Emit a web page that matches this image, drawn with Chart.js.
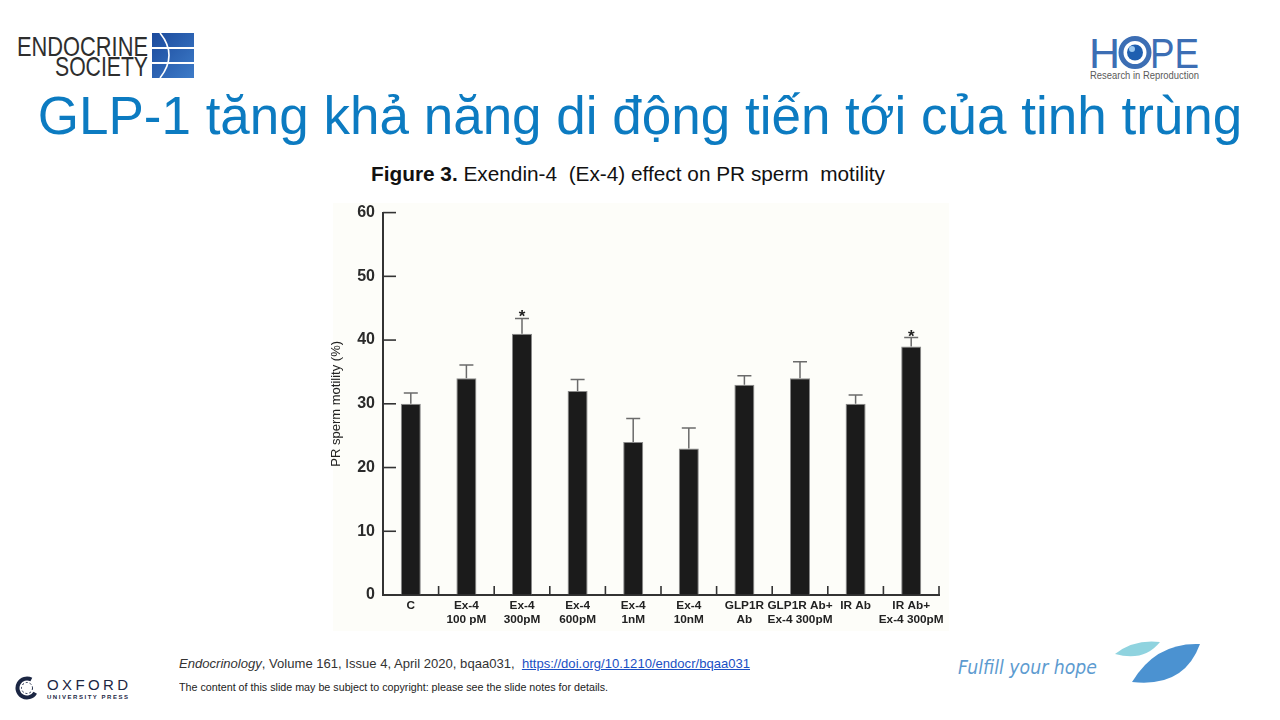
<!DOCTYPE html>
<html>
<head>
<meta charset="utf-8">
<script src="https://cdn.jsdelivr.net/npm/chart.js@4"></script>
<style>
  html, body { margin: 0; padding: 0; }
  body { width: 1280px; height: 720px; position: relative; overflow: hidden; background: #ffffff; font-family: 'Liberation Sans', Arial, sans-serif; }
  .abs { position: absolute; line-height: 1; white-space: pre; }
  #title { left: 0; top: 89px; width: 1280px; text-align: center; font-size: 53px; color: #0c7bc1; }
  #caption { left: 371px; top: 164px; font-size: 20.8px; color: #111; }
  #figBg { left: 333px; top: 203px; width: 616px; height: 428px; background: #fdfdf9; }
  #chartBox { position: absolute; left: 320px; top: 195px; width: 640px; height: 440px; }
  .fit { transform-origin: 0 0; }
  #cite { left: 179px; top: 657px; font-size: 13.5px; color: #333; }
  #cite a { color: #1a4fc4; text-decoration: underline; }
  #note { left: 179px; top: 682px; font-size: 10.5px; color: #222; }
</style>
</head>
<body>

<!-- Endocrine Society logo -->
<svg class="abs" style="left:15px;top:32px" width="180" height="48" viewBox="0 0 180 48">
  <text x="2" y="24" font-family="Liberation Sans, Arial" font-size="28" fill="#2e2e2e" textLength="131" lengthAdjust="spacingAndGlyphs">ENDOCRINE</text>
  <text x="40" y="44" font-family="Liberation Sans, Arial" font-size="28" fill="#2e2e2e" textLength="93" lengthAdjust="spacingAndGlyphs">SOCIETY</text>
</svg>
<svg class="abs" style="left:152px;top:33px" width="42" height="45" viewBox="0 0 42 45">
  <defs>
    <linearGradient id="esg" x1="0" y1="0" x2="1" y2="1">
      <stop offset="0" stop-color="#1b4a9c"/>
      <stop offset="1" stop-color="#3d7bc8"/>
    </linearGradient>
  </defs>
  <rect x="0" y="0" width="42" height="45" fill="url(#esg)"/>
  <rect x="0" y="14" width="42" height="2" fill="#ffffff"/>
  <rect x="0" y="29" width="42" height="2" fill="#ffffff"/>
  <path d="M8 0 Q26 22 8 45" fill="none" stroke="#ffffff" stroke-width="1.6"/>
</svg>

<!-- HOPE logo -->
<svg class="abs" style="left:1088px;top:34px" width="116" height="50" viewBox="0 0 116 50">
  <text x="1" y="34" font-family="Liberation Sans, Arial" font-size="43" fill="#3c6eb4">H</text>
  <circle cx="47" cy="18.5" r="14" fill="none" stroke="#3c6eb4" stroke-width="5"/>
  <circle cx="47" cy="18.5" r="8" fill="#1f5fb0"/>
  <circle cx="44" cy="15" r="3" fill="#9cc8ef"/>
  <text x="62" y="34" font-family="Liberation Sans, Arial" font-size="43" fill="#3c6eb4" textLength="49" lengthAdjust="spacingAndGlyphs">PE</text>
  <text x="2" y="45" font-family="Liberation Sans, Arial" font-size="10.5" fill="#5a5a5a" textLength="109" lengthAdjust="spacingAndGlyphs">Research in Reproduction</text>
</svg>

<div id="title" class="abs">GLP-1 tăng khả năng di động tiến tới của tinh trùng</div>
<div id="caption" class="abs"><b>Figure 3.</b> Exendin-4  (Ex-4) effect on PR sperm  motility</div>

<div id="figBg" class="abs"></div>
<div id="chartBox"><canvas id="motilityChart"></canvas></div>

<div id="cite" class="abs fit"><i>Endocrinology</i>, Volume 161, Issue 4, April 2020, bqaa031,  <a>https://doi.org/10.1210/endocr/bqaa031</a></div>
<div id="note" class="abs fit">The content of this slide may be subject to copyright: please see the slide notes for details.</div>

<!-- Oxford University Press logo -->
<svg class="abs" style="left:15px;top:674px" width="118" height="30" viewBox="0 0 118 30">
  <circle cx="12" cy="14" r="9.5" fill="none" stroke="#1b2643" stroke-width="4" stroke-dasharray="44 16" transform="rotate(30 12 14)"/>
  <circle cx="12" cy="14" r="5.5" fill="none" stroke="#1b2643" stroke-width="1" stroke-dasharray="2 2"/>
  <text x="32" y="16" font-family="Liberation Sans, Arial" font-size="15" fill="#1b2643" textLength="81" lengthAdjust="spacing">OXFORD</text>
  <text x="32" y="25" font-family="Liberation Sans, Arial" font-weight="bold" font-size="6" fill="#1b2643" textLength="81" lengthAdjust="spacing">UNIVERSITY PRESS</text>
</svg>

<!-- Fulfill your hope -->
<svg class="abs" style="left:955px;top:652px" width="150" height="32" viewBox="0 0 150 32">
  <text x="3" y="22" font-family="DejaVu Sans, sans-serif" font-style="italic" font-size="19" fill="#5d9bd0" textLength="139" lengthAdjust="spacingAndGlyphs">Fulfill your hope</text>
</svg>
<svg class="abs" style="left:1110px;top:636px" width="95" height="52" viewBox="0 0 95 52">
  <path d="M5 18 Q24 3 50 6 Q34 26 5 18 Z" fill="#8fd3df"/>
  <path d="M22 46 Q46 6 90 8 Q74 52 22 46 Z" fill="#4b92d1"/>
</svg>

<script>
// Exendin-4 (Ex-4) effect on PR sperm motility, mean and upper error (SEM)
const categories = [
  ['C'], ['Ex-4', '100 pM'], ['Ex-4', '300pM'], ['Ex-4', '600pM'], ['Ex-4', '1nM'],
  ['Ex-4', '10nM'], ['GLP1R', 'Ab'], ['GLP1R Ab+', 'Ex-4 300pM'], ['IR Ab'], ['IR Ab+', 'Ex-4 300pM']
];
const motilityMean = [30, 34, 41, 32, 24, 23, 33, 34, 30, 39];
const motilityError = [1.7, 2.1, 2.4, 1.8, 3.7, 3.2, 1.4, 2.6, 1.4, 1.4];
const significance = ['', '', '*', '', '', '', '', '', '', '*'];
const yMin = 0;
const yMax = 60;
const yStep = 10;

// squeeze footer lines to the width they take on the slide
function fitWidth(id, w) {
    const el = document.getElementById(id);
    el.style.transform = `scaleX(${w / el.getBoundingClientRect().width})`;
}
fitWidth('cite', 571);
fitWidth('note', 429);

const axisColor = '#333333';

const errorBars = {
    id: 'errorBars',
    afterDatasetsDraw(chart) {
        const { ctx } = chart;
        const yScale = chart.scales.y;
        const meta = chart.getDatasetMeta(0);
        ctx.save();
        meta.data.forEach((bar, i) => {
            const top = yScale.getPixelForValue(motilityMean[i] + motilityError[i]);
            ctx.strokeStyle = '#6b6b6b';
            ctx.lineWidth = 1.5;
            ctx.beginPath();
            ctx.moveTo(bar.x, bar.y);
            ctx.lineTo(bar.x, top);
            ctx.moveTo(bar.x - 7, top);
            ctx.lineTo(bar.x + 7, top);
            ctx.stroke();
            if (significance[i]) {
                ctx.fillStyle = '#222';
                ctx.font = 'bold 17px "Liberation Sans", Arial';
                ctx.textAlign = 'center';
                ctx.textBaseline = 'alphabetic';
                ctx.fillText(significance[i], bar.x, top + 4);
            }
        });
        ctx.restore();
    }
};

// tick marks in this figure point into the plot
const inwardTicks = {
    id: 'inwardTicks',
    afterDatasetsDraw(chart) {
        const { ctx, chartArea } = chart;
        const { x, y } = chart.scales;
        ctx.save();
        ctx.strokeStyle = axisColor;
        ctx.lineWidth = 1.6;
        y.ticks.forEach((t, i) => {
            const py = y.getPixelForTick(i);
            ctx.beginPath();
            ctx.moveTo(chartArea.left, py);
            ctx.lineTo(chartArea.left + 13, py);
            ctx.stroke();
        });
        for (let i = 1; i <= categories.length; i++) {
            const px = x.getPixelForValue(i - 0.5);
            ctx.beginPath();
            ctx.moveTo(px, chartArea.bottom);
            ctx.lineTo(px, chartArea.bottom - 9);
            ctx.stroke();
        }
        ctx.restore();
    }
};

new Chart(document.getElementById('motilityChart'), {
    type: 'bar',
    data: {
        labels: categories,
        datasets: [{
            data: motilityMean,
            backgroundColor: '#1b1b1b',
            borderColor: '#8a8a8a',
            borderWidth: 1,
            barPercentage: 0.36,
            categoryPercentage: 1
        }]
    },
    options: {
        responsive: true,
        maintainAspectRatio: false,
        animation: false,
        layout: {
            autoPadding: false,
            padding: { top: 14, right: 21, left: 0, bottom: 0 }
        },
        plugins: {
            legend: { display: false },
            tooltip: { enabled: false }
        },
        scales: {
            x: {
                offset: true,
                grid: { drawOnChartArea: false, drawTicks: false },
                border: { display: true, color: axisColor, width: 2 },
                ticks: {
                    color: '#222',
                    padding: 4,
                    maxRotation: 0,
                    autoSkip: false,
                    font: { family: "'Liberation Sans', Arial", size: 11.8, weight: 'bold', lineHeight: 1.2 }
                },
                afterFit(scale) { scale.height = 40; }
            },
            y: {
                min: yMin,
                max: yMax,
                grid: { drawOnChartArea: false, drawTicks: false },
                border: { display: true, color: axisColor, width: 2 },
                ticks: {
                    stepSize: yStep,
                    color: '#2b2b2b',
                    padding: 8,
                    font: { family: "'Liberation Sans', Arial", size: 16, weight: 'bold' }
                },
                title: {
                    display: true,
                    text: 'PR sperm motility (%)',
                    color: '#222',
                    padding: { top: 9, bottom: 0 },
                    font: { family: "'Liberation Sans', Arial", size: 13 }
                },
                afterFit(scale) { scale.width = 63; }
            }
        }
    },
    plugins: [errorBars, inwardTicks]
});
</script>
</body>
</html>
